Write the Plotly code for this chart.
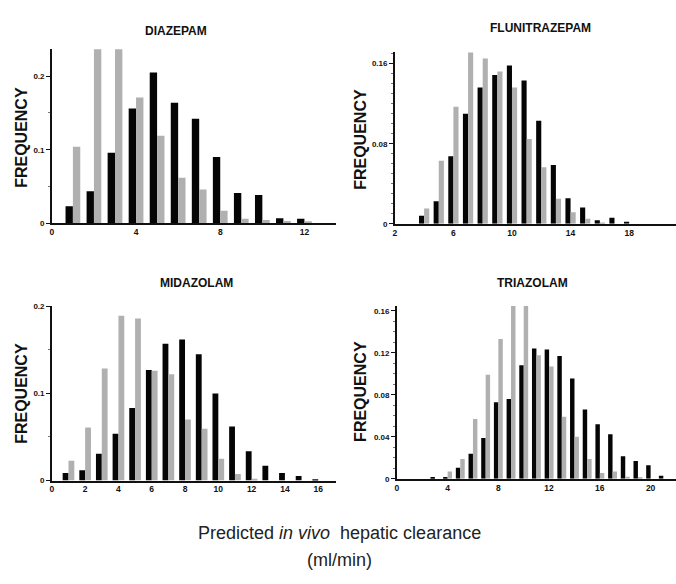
import plotly.graph_objects as go

# ---------------- data ----------------
dia_x = list(range(1, 13))
dia_black = [0.023, 0.0435, 0.096, 0.156, 0.205, 0.164, 0.142, 0.090, 0.041, 0.0386, 0.0067, 0.006]
dia_gray = [0.104, 0.25, 0.25, 0.171, 0.119, 0.062, 0.046, 0.017, 0.006, 0.0045, 0.003, 0.002]

flu_x = list(range(4, 19))
flu_black = [0.0082, 0.0226, 0.0675, 0.110, 0.136, 0.1485, 0.158, 0.143, 0.103, 0.0587, 0.0256, 0.0164, 0.0036, 0.0062, 0.002]
flu_gray = [0.0154, 0.063, 0.117, 0.171, 0.165, 0.152, 0.136, 0.0846, 0.0564, 0.025, 0.0115, 0.005, 0.001, 0.0, 0.0]

mid_x = list(range(1, 17))
mid_black = [0.0087, 0.0117, 0.0307, 0.0538, 0.0833, 0.127, 0.157, 0.162, 0.145, 0.100, 0.062, 0.0337, 0.017, 0.0087, 0.0053, 0.001]
mid_gray = [0.0227, 0.061, 0.1287, 0.189, 0.186, 0.126, 0.122, 0.070, 0.0595, 0.025, 0.0076, 0.002, 0.0, 0.0, 0.0, 0.0]

tri_x = list(range(3, 22))
tri_black = [0.001, 0.001, 0.0106, 0.0238, 0.0388, 0.0728, 0.076, 0.108, 0.124, 0.123, 0.117, 0.0956, 0.066, 0.052, 0.0425, 0.0216, 0.0169, 0.013, 0.003]
tri_gray = [0.0, 0.0069, 0.019, 0.057, 0.099, 0.133, 0.17, 0.17, 0.1175, 0.107, 0.059, 0.040, 0.019, 0.0056, 0.0069, 0.002, 0.001, 0.0, 0.0]

titles = ["DIAZEPAM", "FLUNITRAZEPAM", "MIDAZOLAM", "TRIAZOLAM"]
x_label_main = "Predicted <i>in vivo</i>  hepatic clearance"
x_label_unit = "(ml/min)"
y_label = "FREQUENCY"

panels = [
    (dia_x, dia_black, dia_gray),
    (flu_x, flu_black, flu_gray),
    (mid_x, mid_black, mid_gray),
    (tri_x, tri_black, tri_gray),
]

# ---------------- layout geometry ----------------
W, H = 676, 584
def px_x(p):
    return p / W
def px_y(p):
    return 1 - p / H

# pixel boxes: (left, right, top, bottom)
boxes = [
    (50, 335, 46, 222.7),
    (394, 676, 48.3, 223.3),
    (50, 335, 307, 484),
    (396, 676, 306.7, 482.3),
]
x_ranges = [[0, 13.5], [2, 21.2], [0, 17.07], [0, 22]]
y_ranges = [[0, 0.2366], [0, 0.172], [0, 0.2], [0, 0.1645]]
x_ticks = [[0, 4, 8, 12], [2, 6, 10, 14, 18], [0, 2, 4, 6, 8, 10, 12, 14, 16], [0, 4, 8, 12, 16, 20]]
y_ticks = [[0, 0.1, 0.2], [0, 0.08, 0.16], [0, 0.1, 0.2], [0, 0.04, 0.08, 0.12, 0.16]]
y_ticktext = [["0", "0.1", "0.2"], ["0", "0.08", "0.16"], ["0", "0.1", "0.2"], ["0", "0.04", "0.08", "0.12", "0.16"]]
y_minor = [0.05, 0.01, 0.05, 0.01]

BLACK = "#050505"
GRAY = "#b0b0b0"
FONT = "Liberation Sans"

fig = go.Figure()
layout = dict(
    width=W, height=H,
    margin=dict(l=0, r=0, t=0, b=0),
    paper_bgcolor="white", plot_bgcolor="white",
    showlegend=False,
    barmode="group", bargap=0.3, bargroupgap=0.0,
    font=dict(family=FONT, color="#111"),
)

annotations = []
for i, (xs, bk, gy) in enumerate(panels):
    n = i + 1
    xa = "x" if n == 1 else f"x{n}"
    ya = "y" if n == 1 else f"y{n}"
    fig.add_trace(go.Bar(x=xs, y=bk, marker=dict(color=BLACK, line=dict(width=0)),
                         xaxis=xa, yaxis=ya, offsetgroup="a"))
    fig.add_trace(go.Bar(x=xs, y=gy, marker=dict(color=GRAY, line=dict(width=0)),
                         xaxis=xa, yaxis=ya, offsetgroup="b"))
    l, r, t, b = boxes[i]
    xkey = "xaxis" if n == 1 else f"xaxis{n}"
    ykey = "yaxis" if n == 1 else f"yaxis{n}"
    layout[xkey] = dict(
        domain=[px_x(l), px_x(r)], range=x_ranges[i], anchor=ya,
        tickvals=x_ticks[i], ticks="", showgrid=False, zeroline=False,
        showline=True, linecolor="#111", linewidth=1.5,
        tickfont=dict(family=FONT, size=8.5, color="#111", weight="bold"),
    )
    layout[ykey] = dict(
        domain=[px_y(b), px_y(t)], range=y_ranges[i], anchor=xa,
        tickvals=y_ticks[i], ticktext=y_ticktext[i], ticks="outside", ticklen=4,
        tickwidth=1, tickcolor="#111",
        minor=dict(dtick=y_minor[i], tick0=0, ticks="outside", ticklen=2, tickcolor="#777", showgrid=False),
        showgrid=False, zeroline=False,
        showline=True, linecolor="#111", linewidth=1.5,
        tickfont=dict(family=FONT, size=8, color="#111", weight="bold"),
    )

# titles
title_pos = [(175, 27), (540, 24), (195, 283), (532, 283)]
for (tx, ty), txt in zip(title_pos, titles):
    annotations.append(dict(text=f"<b>{txt}</b>", x=px_x(tx), y=px_y(ty), xref="paper", yref="paper",
                            showarrow=False, xanchor="center", yanchor="middle",
                            font=dict(family=FONT, size=12, color="#111")))
# FREQUENCY labels
freq_pos = [(20, 135), (360, 137), (20, 395), (360, 393)]
for fx, fy in freq_pos:
    annotations.append(dict(text=f"<b>{y_label}</b>", x=px_x(fx), y=px_y(fy), xref="paper", yref="paper",
                            showarrow=False, xanchor="center", yanchor="middle", textangle=-90,
                            font=dict(family=FONT, size=16, color="#111")))
# bottom label
annotations.append(dict(text=x_label_main, x=px_x(338), y=px_y(537), xref="paper", yref="paper",
                        showarrow=False, xanchor="center", yanchor="middle",
                        font=dict(family=FONT, size=18, color="#222")))
annotations.append(dict(text=x_label_unit, x=px_x(338), y=px_y(565), xref="paper", yref="paper",
                        showarrow=False, xanchor="center", yanchor="middle",
                        font=dict(family=FONT, size=18, color="#222")))

layout["annotations"] = annotations
fig.update_layout(**layout)
fig.write_html("out.html")
